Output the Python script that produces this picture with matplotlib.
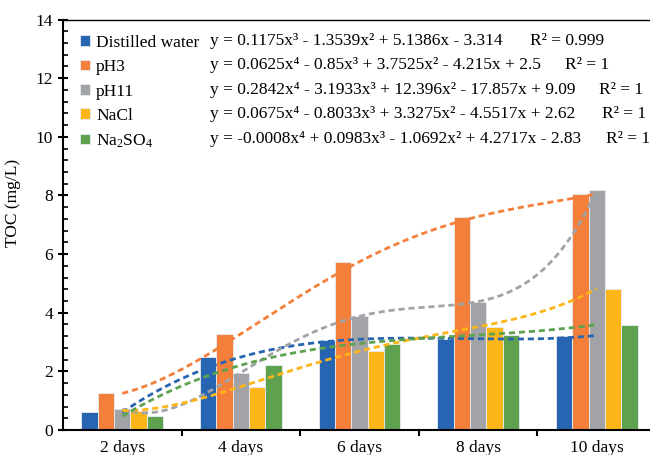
import numpy as np
import matplotlib
matplotlib.use("Agg")
import matplotlib.pyplot as plt

plt.rcParams["font.family"] = ["Liberation Serif", "DejaVu Serif"]
plt.rcParams["mathtext.fontset"] = "custom"
plt.rcParams["mathtext.rm"] = "Liberation Serif"
plt.rcParams["mathtext.it"] = "Liberation Serif:italic"

days = ["2 days", "4 days", "6 days", "8 days", "10 days"]
series = ["Distilled water", "pH3", "pH11", "NaCl", "Na$_2$SO$_4$"]
colors = ["#2765B2", "#F37F3A", "#A1A3A6", "#FDB617", "#5EA24F"]
distilled = [0.60, 2.50, 3.08, 3.12, 3.22]
ph3 = [1.25, 3.28, 5.74, 7.28, 8.05]
ph11 = [0.72, 1.96, 3.88, 4.38, 8.17]
nacl = [0.66, 1.48, 2.69, 3.52, 4.82]
na2so4 = [0.47, 2.21, 2.95, 3.24, 3.59]
values = [distilled, ph3, ph11, nacl, na2so4]
degrees = [3, 4, 4, 4, 4]
equations = [
    "y = 0.1175x³ - 1.3539x² + 5.1386x - 3.314",
    "y = 0.0625x⁴ - 0.85x³ + 3.7525x² - 4.215x + 2.5",
    "y = 0.2842x⁴ - 3.1933x³ + 12.396x² - 17.857x + 9.09",
    "y = 0.0675x⁴ - 0.8033x³ + 3.3275x² - 4.5517x + 2.62",
    "y = -0.0008x⁴ + 0.0983x³ - 1.0692x² + 4.2717x - 2.83",
]
r2 = ["R² = 0.999", "R² = 1", "R² = 1", "R² = 1", "R² = 1"]

W, H = 650, 455
fig = plt.figure(figsize=(W / 100, H / 100), dpi=100)
ax = fig.add_axes([63 / W, 25 / H, (W - 63) / W, 410.5 / H])

x = np.arange(1, 6)
bw = 0.138
for i, (name, vals, c) in enumerate(zip(series, values, colors)):
    ax.bar(x + (i - 2) * bw, vals, bw, color=c, edgecolor="#E6ECF4",
           linewidth=0.6, label=name, zorder=2)

# polynomial trendlines, like Excel's
xs = np.linspace(1, 5, 200)
for vals, c, d in zip(values, colors, degrees):
    coef = np.polyfit(x, vals, d)
    ax.plot(xs, np.polyval(coef, xs), color=c, lw=2, ls=(0, (2.2, 1.4)), zorder=3)

ax.set_xlim(0.5, 0.5 + (W - 63) / 118.6)
ax.set_ylim(0, 14)
ax.set_yticks(np.arange(0, 15, 2))
ax.set_yticks(np.arange(0, 14.01, 0.4), minor=True)
ax.set_xticks(x)
ax.set_xticklabels(days)
ax.set_xticks(np.arange(1.5, 5.5, 1), minor=True)
ax.tick_params(axis="x", which="major", length=0, labelsize=12.5, pad=7)
ax.tick_params(axis="x", which="minor", length=4, width=1.5, direction="out")
ax.tick_params(axis="y", which="major", length=7, width=1.5, direction="inout", labelsize=12.5)
ax.tick_params(axis="y", which="minor", length=3.5, width=1.2, direction="in")
ax.spines["right"].set_visible(False)
ax.spines["left"].set_linewidth(1.5)
ax.spines["bottom"].set_linewidth(1.5)
ax.spines["top"].set_linewidth(1)
ax.set_ylabel("TOC (mg/L)", fontsize=12.5, labelpad=6)
ax.yaxis.set_label_coords(-0.072, (430 - 203) / 410.5)

leg = ax.legend(loc="upper left", bbox_to_anchor=(0.012, 0.988), frameon=False,
                fontsize=12.5, handlelength=0.55, handleheight=0.55,
                handletextpad=0.35, labelspacing=0.48, borderaxespad=0.2)

rows = [41, 65, 90, 114, 139]
r2x = [530, 565, 599, 602, 606]
for eq, r, y, rx in zip(equations, r2, rows, r2x):
    fig.text(210 / W, 1 - y / H, eq, fontsize=12.5, va="center")
    fig.text(rx / W, 1 - y / H, r, fontsize=12.5, va="center")

fig.savefig("out.png", dpi=100)
